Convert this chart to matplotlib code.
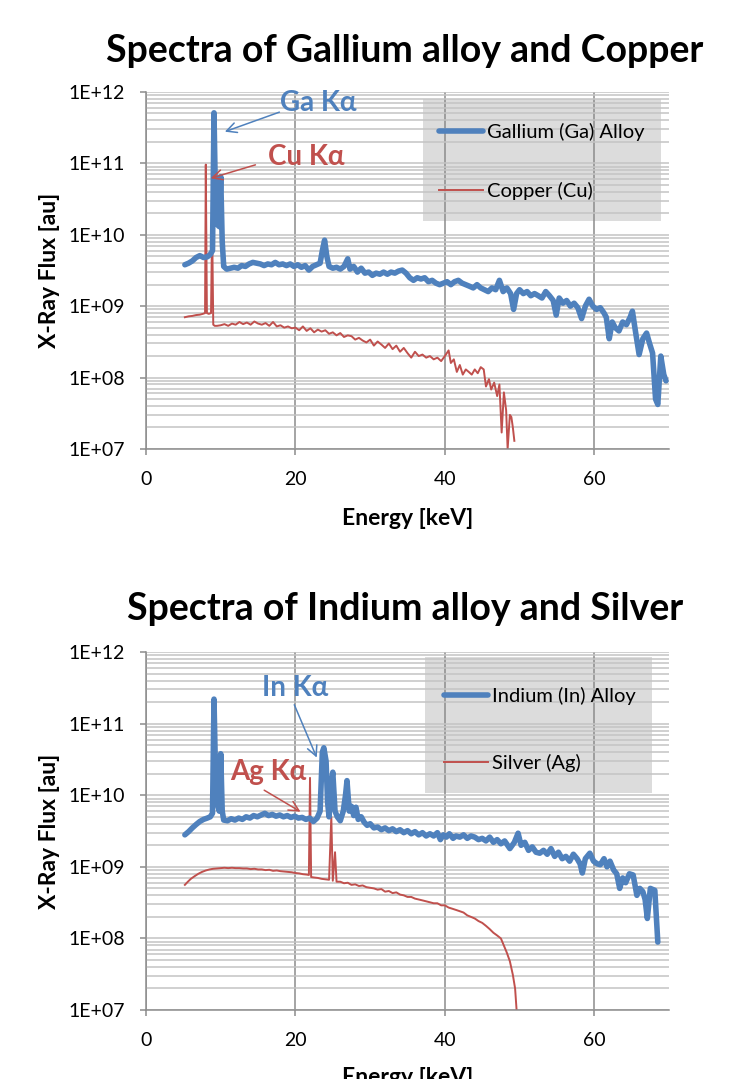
import numpy as np
import matplotlib
matplotlib.use("Agg")
import matplotlib.pyplot as plt
from matplotlib.patches import Rectangle
from matplotlib.ticker import FixedLocator, FuncFormatter, NullFormatter

plt.rcParams['font.family'] = ['Lato', 'DejaVu Sans']

BLUE = '#4F81BD'
RED = '#C0504D'

# ---- top chart: gallium alloy (x1e9) and copper (x1e8) ----
ga_energy = [5.2, 5.7, 6.2, 6.7, 7.2, 7.7, 8.2, 8.6, 8.9, 9.1, 9.3, 9.5, 9.8, 10.0, 10.2, 10.4,
             10.8, 11.3, 11.8, 12.3, 12.8, 13.3, 13.8, 14.3, 14.8, 15.3, 15.8, 16.3, 16.8, 17.3,
             17.8, 18.3, 18.8, 19.3, 19.8, 20.3, 20.8, 21.3, 21.8, 22.3, 22.8, 23.3, 23.6, 23.9,
             24.2, 24.5, 25.0, 25.5, 26.0, 26.5, 27.0, 27.3, 27.8, 28.3, 28.8, 29.3, 29.8, 30.3,
             30.8, 31.3, 31.8, 32.3, 32.8, 33.3, 33.8, 34.3, 34.8, 35.3, 35.8, 36.3, 36.8, 37.3,
             37.8, 38.3, 38.8, 39.3, 39.8, 40.3, 40.8, 41.3, 41.8, 42.3, 42.8, 43.3, 43.8, 44.3,
             44.8, 45.3, 45.8, 46.3, 46.8, 47.3, 47.8, 48.3, 48.8, 49.2, 49.6, 50.0, 50.5, 51.0,
             51.5, 52.0, 52.5, 53.0, 53.5, 54.0, 54.5, 54.9, 55.3, 55.8, 56.3, 56.8, 57.3, 57.8,
             58.3, 58.8, 59.3, 59.8, 60.3, 60.8, 61.3, 61.6, 62.0, 62.4, 62.8, 63.3, 63.8, 64.3,
             64.8, 65.1, 65.5, 66.0, 66.5, 67.0, 67.4, 67.8, 68.2, 68.5, 68.9, 69.3, 69.6]
ga_flux = [3.8, 4.0, 4.3, 4.8, 5.1, 4.8, 4.9, 5.3, 6.0, 510, 30, 14, 13, 65, 8, 3.6,
           3.3, 3.4, 3.5, 3.4, 3.7, 3.6, 3.9, 4.1, 4.0, 3.9, 3.7, 3.9, 3.8, 4.1,
           3.8, 3.9, 3.7, 3.9, 3.6, 3.8, 3.5, 3.7, 3.2, 3.6, 3.8, 4.0, 6.0, 8.4,
           5.0, 3.6, 3.4, 3.5, 3.3, 3.6, 4.6, 3.3, 3.6, 3.0, 3.4, 2.9, 3.0, 2.7,
           2.9, 2.8, 3.0, 2.8, 3.0, 2.9, 3.1, 3.2, 2.9, 2.5, 2.3, 2.5, 2.4, 2.5,
           2.2, 2.3, 2.1, 2.0, 2.1, 2.2, 2.0, 2.2, 2.3, 2.1, 2.0, 1.9, 1.8, 2.0,
           1.8, 1.7, 1.6, 1.8, 1.7, 2.3, 1.6, 1.8, 1.5, 0.9, 1.5, 1.7, 1.5, 1.6,
           1.4, 1.5, 1.4, 1.3, 1.6, 1.4, 1.2, 0.75, 1.3, 1.1, 1.2, 1.0, 1.1, 0.95,
           0.67, 1.0, 1.25, 1.0, 0.9, 0.95, 0.8, 0.7, 0.35, 0.6, 0.5, 0.45, 0.6, 0.55,
           0.7, 0.85, 0.45, 0.21, 0.35, 0.42, 0.3, 0.22, 0.05, 0.042, 0.2, 0.11, 0.09]

cu_energy = [5.2, 5.7, 6.2, 6.7, 7.2, 7.6, 7.9, 8.0, 8.15, 8.4, 8.7, 8.85, 9.0, 9.2,
             9.5, 10.0, 10.5, 11.0, 11.5, 12.0, 12.5, 13.0, 13.5, 14.0, 14.5, 15.0, 15.5, 16.0,
             16.5, 17.0, 17.5, 18.0, 18.5, 19.0, 19.5, 20.0, 20.5, 21.0, 21.5, 22.0, 22.5, 23.0,
             23.5, 24.0, 24.5, 25.0, 25.5, 26.0, 26.5, 27.0, 27.5, 28.0, 28.5, 29.0, 29.5, 30.0,
             30.5, 31.0, 31.5, 32.0, 32.5, 33.0, 33.5, 34.0, 34.5, 35.0, 35.5, 36.0, 36.5, 37.0,
             37.5, 38.0, 38.5, 39.0, 39.5, 40.0, 40.5, 40.8, 41.2, 41.6, 42.0, 42.4, 42.8, 43.2,
             43.6, 44.0, 44.4, 44.8, 45.2, 45.5, 45.9, 46.2, 46.6, 47.0, 47.3, 47.6, 47.9, 48.2,
             48.4, 48.7, 48.9, 49.1, 49.3]
cu_flux = [7.0, 7.2, 7.3, 7.5, 7.6, 7.8, 8.0, 960, 8.0, 7.8, 8.0, 140, 5.5, 5.3,
           5.3, 5.4, 5.6, 5.3, 5.7, 5.5, 6.0, 5.6, 5.9, 5.5, 6.1, 5.7, 5.5, 5.8,
           5.3, 6.0, 5.2, 5.4, 5.0, 5.2, 4.9, 5.0, 4.6, 5.2, 4.5, 4.9, 4.3, 4.7,
           4.4, 4.6, 4.1, 4.3, 3.9, 4.2, 3.7, 3.9, 3.8, 3.4, 3.6, 3.3, 3.1, 3.4,
           2.8, 3.2, 2.9, 2.6, 3.0, 2.5, 2.8, 2.3, 2.6, 2.2, 1.9, 2.3, 2.0, 2.1,
           1.9, 2.0, 1.8, 1.9, 1.7, 2.0, 2.4, 1.6, 1.8, 1.2, 1.5, 1.1, 1.3, 1.2,
           1.1, 1.3, 1.15, 1.4, 1.3, 0.75, 0.95, 0.68, 0.85, 0.55, 0.8, 0.17, 0.62, 0.35,
           0.1, 0.3, 0.28, 0.2, 0.13]

# ---- bottom chart: indium alloy (x1e9) and silver (x1e8) ----
in_energy = [5.2, 5.7, 6.2, 6.7, 7.2, 7.7, 8.2, 8.6, 8.9, 9.1, 9.3, 9.5, 9.8, 10.0, 10.2, 10.4,
             10.9, 11.4, 11.9, 12.4, 12.9, 13.4, 13.9, 14.4, 14.9, 15.4, 15.9, 16.4, 16.9, 17.4,
             17.9, 18.4, 18.9, 19.4, 19.9, 20.4, 20.9, 21.4, 21.9, 22.4, 22.9, 23.3, 23.6, 23.8,
             24.1, 24.3, 24.5, 24.8, 25.0, 25.3, 25.6, 26.0, 26.4, 26.7, 26.9, 27.2, 27.5, 27.8,
             28.1, 28.4, 28.8, 29.2, 29.6, 30.0, 30.5, 31.0, 31.5, 32.0, 32.5, 33.0, 33.5, 34.0,
             34.5, 35.0, 35.5, 36.0, 36.5, 37.0, 37.5, 38.0, 38.5, 39.0, 39.4, 39.8, 40.2, 40.6,
             41.1, 41.5, 42.0, 42.5, 43.0, 43.5, 44.0, 44.5, 45.0, 45.5, 46.0, 46.5, 47.0, 47.5,
             48.0, 48.7, 49.3, 49.8, 50.2, 50.7, 51.2, 51.7, 52.2, 52.7, 53.2, 53.7, 54.2, 54.7,
             55.2, 55.7, 56.2, 56.7, 57.2, 57.7, 58.1, 58.4, 58.8, 59.4, 59.9, 60.4, 60.8, 61.3,
             61.7, 62.1, 62.6, 63.0, 63.4, 63.8, 64.2, 64.7, 65.2, 65.7, 66.1, 66.5, 66.8, 67.1,
             67.5, 68.1, 68.5]
in_flux = [2.8, 3.1, 3.5, 3.9, 4.3, 4.6, 4.8, 5.0, 5.6, 220, 20, 8, 6, 38, 6, 4.5,
           4.4, 4.7, 4.5, 4.8, 4.6, 5.0, 4.8, 5.2, 5.0, 5.3, 5.6, 5.2, 5.4, 5.1,
           5.3, 5.0, 5.2, 4.9, 5.1, 4.8, 4.9, 4.6, 4.8, 4.3, 4.8, 6.0, 40, 46,
           30, 8, 5, 15, 21, 6, 5, 4.4, 6, 10, 16, 6, 7.0, 5.2,
           6.8, 4.6, 5.0, 4.2, 3.8, 4.0, 3.5, 3.6, 3.3, 3.5, 3.2, 3.4, 3.1, 3.3,
           3.0, 3.2, 2.9, 3.1, 2.8, 3.0, 2.7, 2.9, 2.7, 3.0, 2.4, 2.8, 2.6, 2.9,
           2.5, 2.7, 2.6, 2.8, 2.5, 2.7, 2.6, 2.4, 2.5, 2.3, 2.6, 2.2, 2.4, 2.1,
           2.3, 1.8, 2.2, 2.95, 2.0, 2.2, 1.7, 1.9, 1.6, 1.55, 1.7, 1.5, 1.8, 1.4,
           1.6, 1.3, 1.4, 1.2, 1.5, 1.3, 1.1, 0.82, 1.3, 1.55, 1.2, 1.1, 1.07, 1.3,
           1.0, 1.2, 0.9, 0.8, 0.5, 0.7, 0.6, 0.8, 0.77, 0.4, 0.5, 0.45, 0.35, 0.19,
           0.5, 0.47, 0.089]

ag_energy = [5.2, 5.6, 6.0, 6.5, 7.0, 7.5, 8.0, 8.5, 9.0, 9.5, 10.0, 10.5, 11.0, 11.5,
             12.0, 12.5, 13.0, 13.5, 14.0, 14.5, 15.0, 15.5, 16.0, 16.5, 17.0, 17.5, 18.0, 18.5,
             19.0, 19.5, 20.0, 20.5, 21.0, 21.5, 21.8, 21.95, 22.1, 22.5, 23.0, 23.5, 24.0, 24.5,
             24.8, 25.0, 25.3, 25.5, 26.0, 26.5, 27.0, 27.5, 28.0, 28.5, 29.0, 29.5, 30.0, 30.5,
             31.0, 31.5, 32.0, 32.5, 33.0, 33.5, 34.0, 34.5, 35.0, 35.5, 36.0, 36.5, 37.0, 37.5,
             38.0, 38.5, 39.0, 39.5, 40.0, 40.5, 41.0, 41.5, 42.0, 42.5, 43.0, 43.5, 44.0, 44.5,
             45.0, 45.5, 46.0, 46.5, 47.0, 47.5, 48.0, 48.3, 48.7, 49.1, 49.4, 49.6]
ag_flux = [5.6, 6.2, 6.8, 7.4, 8.0, 8.5, 8.9, 9.2, 9.4, 9.5, 9.6, 9.7, 9.6, 9.7,
           9.6, 9.6, 9.5, 9.5, 9.3, 9.4, 9.2, 9.2, 9.0, 9.1, 8.8, 8.9, 8.7, 8.6,
           8.5, 8.4, 8.2, 8.1, 7.9, 7.8, 7.7, 175, 7.2, 7.1, 7.0, 6.8, 6.7, 6.6,
           50, 6.4, 16, 6.2, 6.2, 5.9, 6.0, 5.6, 5.7, 5.4, 5.5, 5.2, 5.1, 5.0,
           4.8, 4.9, 4.5, 4.6, 4.3, 4.4, 4.1, 4.0, 3.8, 3.8, 3.6, 3.5, 3.4, 3.3,
           3.2, 3.1, 3.1, 2.9, 2.9, 2.7, 2.6, 2.5, 2.4, 2.3, 2.1, 2.0, 1.9, 1.75,
           1.65, 1.5, 1.35, 1.2, 1.1, 1.0, 0.75, 0.63, 0.48, 0.31, 0.2, 0.1]

x_ticks = [0, 20, 40, 60]
y_ticks = [1e7, 1e8, 1e9, 1e10, 1e11, 1e12]


def style_axis(ax, xlabel_y):
    ax.set_yscale('log')
    ax.set_xlim(0, 70)
    ax.set_ylim(1e7, 1e12)
    ax.set_axisbelow(True)
    ax.xaxis.set_major_locator(FixedLocator(x_ticks))
    ax.yaxis.set_major_locator(FixedLocator(y_ticks))
    minors = [m * 10.0 ** d for d in range(7, 12) for m in range(2, 10)]
    ax.yaxis.set_minor_locator(FixedLocator(minors))
    ax.yaxis.set_minor_formatter(NullFormatter())
    ax.yaxis.set_major_formatter(FuncFormatter(lambda v, p: '1E+%02d' % round(np.log10(v))))
    ax.grid(axis='y', which='both', color='#c4c4c4', lw=1.1)
    ax.grid(axis='x', which='major', color='#8c8c8c', lw=1.1)
    for s in ['top', 'right']:
        ax.spines[s].set_visible(False)
    for s in ['left', 'bottom']:
        ax.spines[s].set_color('#8c8c8c')
        ax.spines[s].set_linewidth(1.1)
    ax.tick_params(axis='both', which='major', direction='out', length=4, color='#8c8c8c',
                   labelsize=14, width=1.1)
    ax.tick_params(axis='y', which='minor', length=0)
    ax.tick_params(axis='x', pad=12)
    ax.tick_params(axis='y', pad=11)
    ax.set_xlabel('Energy [keV]', fontsize=16.5, fontweight='bold')
    ax.set_ylabel('X-Ray Flux [au]', fontsize=16.5, fontweight='bold')
    ax.xaxis.set_label_coords(0.5, xlabel_y)
    ax.yaxis.set_label_coords(-0.165, 0.5)


fig = plt.figure(figsize=(7.33, 10.79), dpi=100)

# top chart
ax1 = fig.add_axes([0.1992, 0.5839, 0.7135, 0.3309])
style_axis(ax1, -0.165)
ax1.add_patch(Rectangle((0.530, 0.638), 0.455, 0.342, transform=ax1.transAxes,
                        facecolor='#d4d4d4', edgecolor='none', alpha=0.8, zorder=0.3))
ax1.plot(ga_energy, np.array(ga_flux) * 1e9, color=BLUE, lw=4, label='Gallium (Ga) Alloy',
         solid_joinstyle='round', solid_capstyle='round', zorder=3)
ax1.plot(cu_energy, np.array(cu_flux) * 1e8, color=RED, lw=1.4, label='Copper (Cu)', zorder=2)
ax1.legend(loc='upper left', bbox_to_anchor=(0.54, 0.94), frameon=False, fontsize=14.5,
           handlelength=2.2, handletextpad=0.2, labelspacing=2.0, borderpad=0)
ax1.text(23.0, 10 ** 11.85, 'Ga Kα', color=BLUE, fontsize=20, fontweight='bold',
         ha='center', va='center')
ax1.annotate('', xy=(10.2, 10 ** 11.43), xytext=(18.2, 10 ** 11.73),
             arrowprops=dict(arrowstyle='->', color=BLUE, lw=1.1, mutation_scale=18))
ax1.text(21.5, 10 ** 11.09, 'Cu Kα', color=RED, fontsize=20, fontweight='bold',
         ha='center', va='center')
ax1.annotate('', xy=(8.3, 10 ** 10.78), xytext=(15.0, 10 ** 10.99),
             arrowprops=dict(arrowstyle='->', color=RED, lw=1.1, mutation_scale=18))
fig.text(0.5525, 0.9525, 'Spectra of Gallium alloy and Copper', ha='center', va='center',
         fontsize=27, fontweight='bold')

# bottom chart
ax2 = fig.add_axes([0.1992, 0.0639, 0.7135, 0.3318])
style_axis(ax2, -0.16)
ax2.add_patch(Rectangle((0.533, 0.606), 0.435, 0.380, transform=ax2.transAxes,
                        facecolor='#d4d4d4', edgecolor='none', alpha=0.8, zorder=0.3))
ax2.plot(in_energy, np.array(in_flux) * 1e9, color=BLUE, lw=4, label='Indium (In) Alloy',
         solid_joinstyle='round', solid_capstyle='round', zorder=3)
ax2.plot(ag_energy, np.array(ag_flux) * 1e8, color=RED, lw=1.4, label='Silver (Ag)', zorder=2)
ax2.legend(loc='upper left', bbox_to_anchor=(0.55, 0.93), frameon=False, fontsize=14.5,
           handlelength=2.2, handletextpad=0.2, labelspacing=2.4, borderpad=0)
ax2.text(19.9, 10 ** 11.50, 'In Kα', color=BLUE, fontsize=20, fontweight='bold',
         ha='center', va='center')
ax2.annotate('', xy=(23.0, 10 ** 10.49), xytext=(19.7, 10 ** 11.30),
             arrowprops=dict(arrowstyle='->', color=BLUE, lw=1.1, mutation_scale=18))
ax2.text(16.3, 10 ** 10.32, 'Ag Kα', color=RED, fontsize=20, fontweight='bold',
         ha='center', va='center')
ax2.annotate('', xy=(21.0, 10 ** 9.75), xytext=(15.5, 10 ** 10.09),
             arrowprops=dict(arrowstyle='->', color=RED, lw=1.1, mutation_scale=18))
fig.text(0.5525, 0.4355, 'Spectra of Indium alloy and Silver', ha='center', va='center',
         fontsize=27, fontweight='bold')

fig.savefig('out.png', dpi=100)
